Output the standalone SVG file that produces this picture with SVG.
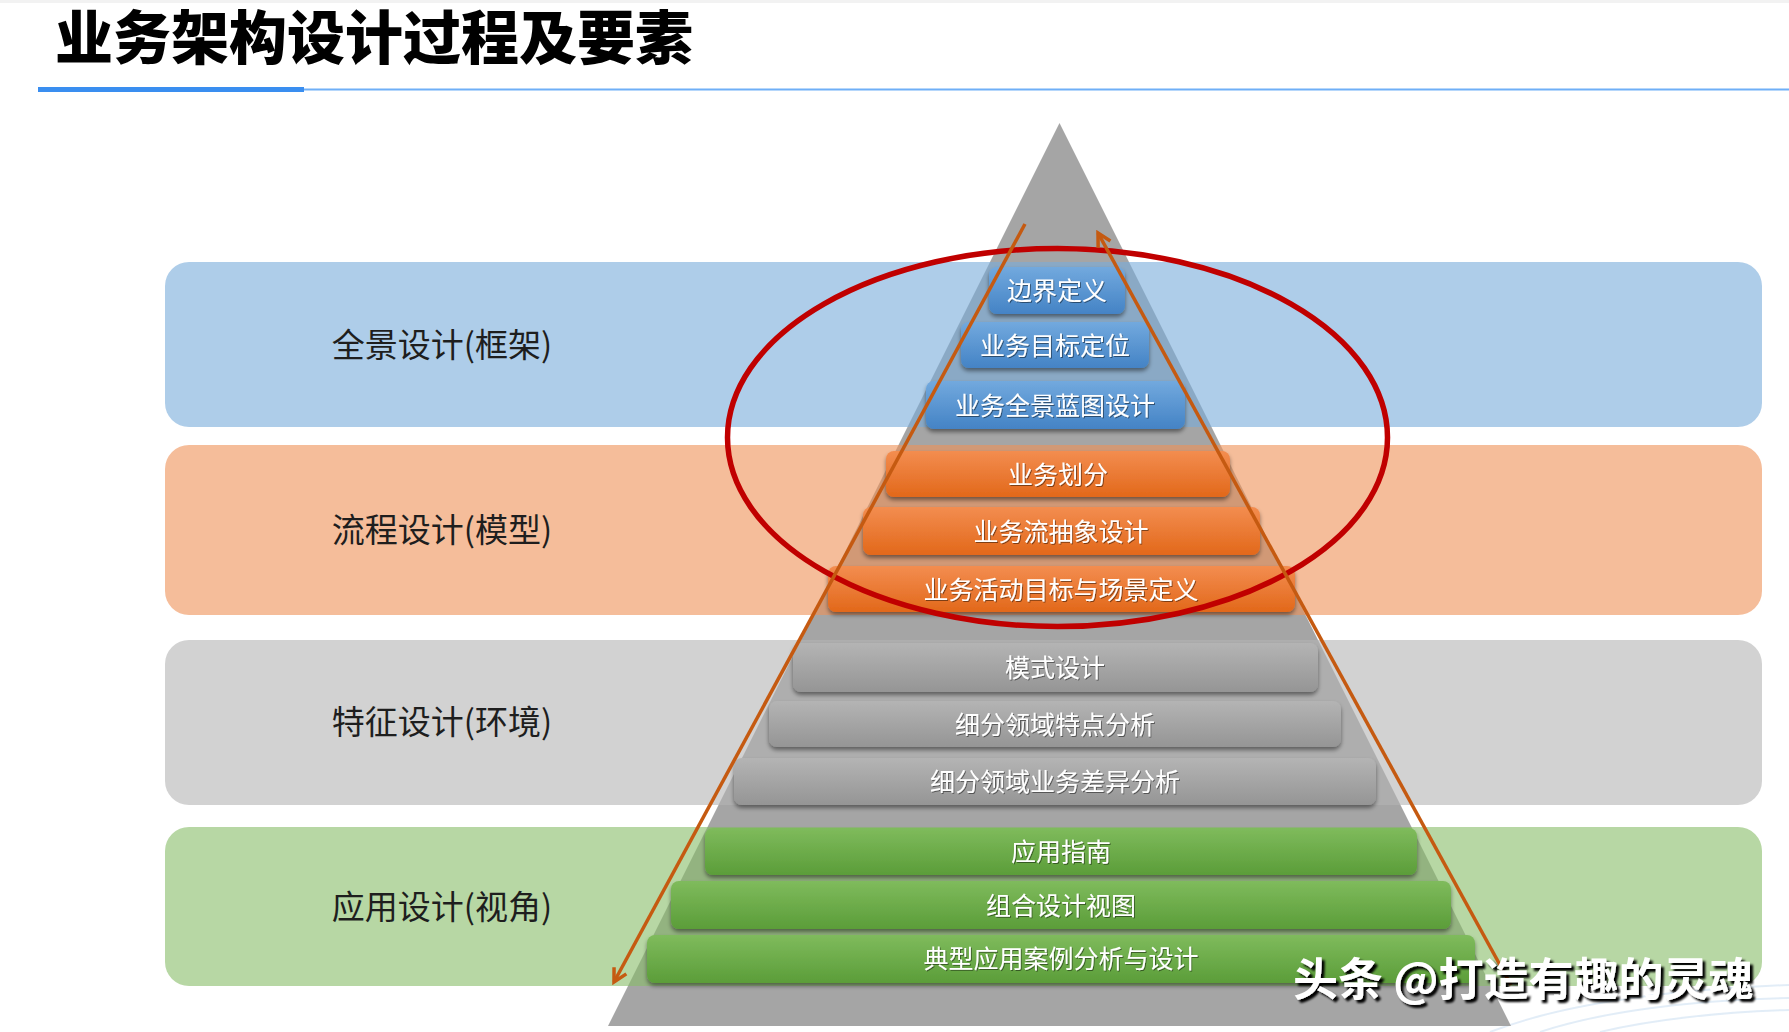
<svg xmlns="http://www.w3.org/2000/svg" width="1789" height="1032" viewBox="0 0 1789 1032">
<defs>
<style>
.cjk{font-family:"Noto Sans CJK SC","Noto Sans CJK JP",sans-serif;}
.title{font-size:58px;font-weight:900;fill:#000;}
.lbl{font-size:33px;fill:#1e1e1e;text-anchor:middle;}
.bx{font-size:25px;fill:#fff;text-anchor:middle;}
.band{fill-opacity:0.6;}
.arr{stroke:#c55a11;stroke-width:3.5;fill:none;marker-end:url(#ah);}
</style>
<linearGradient id="gB" x1="0" y1="0" x2="0" y2="1"><stop offset="0" stop-color="#72a9de"/><stop offset="1" stop-color="#4483c5"/></linearGradient>
<linearGradient id="gO" x1="0" y1="0" x2="0" y2="1"><stop offset="0" stop-color="#f38d50"/><stop offset="1" stop-color="#e2681a"/></linearGradient>
<linearGradient id="gG" x1="0" y1="0" x2="0" y2="1"><stop offset="0" stop-color="#b4b4b4"/><stop offset="1" stop-color="#959595"/></linearGradient>
<linearGradient id="gN" x1="0" y1="0" x2="0" y2="1"><stop offset="0" stop-color="#7fbb5c"/><stop offset="1" stop-color="#5b9d39"/></linearGradient>
<filter id="sh" x="-10%" y="-30%" width="120%" height="170%"><feDropShadow dx="0" dy="3" stdDeviation="2" flood-color="#000" flood-opacity="0.45"/></filter>
<filter id="tsh" x="-5%" y="-20%" width="110%" height="140%"><feDropShadow dx="1" dy="1" stdDeviation="0.7" flood-color="#000" flood-opacity="0.45"/></filter>
<filter id="wm" x="-5%" y="-20%" width="110%" height="150%"><feDropShadow dx="3" dy="3" stdDeviation="0.8" flood-color="#000" flood-opacity="1"/></filter>
<marker id="ah" viewBox="0 0 18 18" refX="15" refY="9" markerWidth="18" markerHeight="18" markerUnits="userSpaceOnUse" orient="auto"><path d="M2,2 L15,9 L2,16" fill="none" stroke="#c55a11" stroke-width="3.5" stroke-linejoin="miter"/></marker>
</defs>
<rect width="1789" height="1032" fill="#fff"/>
<rect width="1789" height="3" fill="#f2f2f2"/>
<g id="bg-waves" fill="none" stroke="#dce9f6" stroke-width="2" opacity="0.8">
<path d="M1490,1032 C1560,1005 1660,990 1789,985"/>
<path d="M1540,1032 C1600,1012 1690,1000 1789,998"/>
<path d="M1600,1032 C1650,1020 1720,1012 1789,1010"/>
</g>
<g id="title">
<text class="cjk title" x="55" y="59">业务架构设计过程及要素</text>
<rect x="304" y="88.5" width="1485" height="2" fill="#6fafF7"/>
<rect x="38" y="87" width="266" height="5" fill="#3a8ef0"/>
</g>
<polygon id="pyramid" points="1059.5,123 608,1026 1511,1026" fill="#a5a5a5"/>
<g id="bands">
<rect class="band" x="165" y="262" width="1597" height="165" rx="24" fill="#78acda"/>
<rect class="band" x="165" y="445" width="1597" height="170" rx="24" fill="#ee9157"/>
<rect class="band" x="165" y="640" width="1597" height="165" rx="24" fill="#b4b4b4"/>
<rect class="band" x="165" y="827" width="1597" height="159" rx="24" fill="#87bc67"/>
</g>
<g id="label-1"><text class="cjk lbl" x="442" y="357">全景设计(框架)</text></g>
<g id="label-2"><text class="cjk lbl" x="442" y="542">流程设计(模型)</text></g>
<g id="label-3"><text class="cjk lbl" x="442" y="734">特征设计(环境)</text></g>
<g id="label-4"><text class="cjk lbl" x="442" y="919">应用设计(视角)</text></g>
<g id="box-1"><rect x="989" y="267" width="136" height="47" rx="8" fill="url(#gB)" filter="url(#sh)"/><text class="cjk bx" filter="url(#tsh)" x="1057" y="299.5">边界定义</text></g>
<g id="box-2"><rect x="961" y="322" width="188" height="46" rx="8" fill="url(#gB)" filter="url(#sh)"/><text class="cjk bx" filter="url(#tsh)" x="1055" y="354.5">业务目标定位</text></g>
<g id="box-3"><rect x="926" y="381" width="259" height="48" rx="8" fill="url(#gB)" filter="url(#sh)"/><text class="cjk bx" filter="url(#tsh)" x="1055" y="414.5">业务全景蓝图设计</text></g>
<g id="box-4"><rect x="886" y="451" width="344" height="46" rx="8" fill="url(#gO)" filter="url(#sh)"/><text class="cjk bx" filter="url(#tsh)" x="1058" y="483.5">业务划分</text></g>
<g id="box-5"><rect x="863" y="507" width="397" height="48" rx="8" fill="url(#gO)" filter="url(#sh)"/><text class="cjk bx" filter="url(#tsh)" x="1061" y="540.5">业务流抽象设计</text></g>
<g id="box-6"><rect x="828" y="566" width="467" height="46" rx="8" fill="url(#gO)" filter="url(#sh)"/><text class="cjk bx" filter="url(#tsh)" x="1061" y="598.5">业务活动目标与场景定义</text></g>
<g id="box-7"><rect x="793" y="643" width="525" height="49" rx="8" fill="url(#gG)" filter="url(#sh)"/><text class="cjk bx" filter="url(#tsh)" x="1055" y="676.5">模式设计</text></g>
<g id="box-8"><rect x="769" y="701" width="572" height="46" rx="8" fill="url(#gG)" filter="url(#sh)"/><text class="cjk bx" filter="url(#tsh)" x="1055" y="733.5">细分领域特点分析</text></g>
<g id="box-9"><rect x="734" y="758" width="642" height="47" rx="8" fill="url(#gG)" filter="url(#sh)"/><text class="cjk bx" filter="url(#tsh)" x="1055" y="790.5">细分领域业务差异分析</text></g>
<g id="box-10"><rect x="705" y="828" width="712" height="47" rx="8" fill="url(#gN)" filter="url(#sh)"/><text class="cjk bx" filter="url(#tsh)" x="1061" y="860.5">应用指南</text></g>
<g id="box-11"><rect x="671" y="881" width="780" height="48" rx="8" fill="url(#gN)" filter="url(#sh)"/><text class="cjk bx" filter="url(#tsh)" x="1061" y="914.5">组合设计视图</text></g>
<g id="box-12"><rect x="647" y="935" width="828" height="48" rx="8" fill="url(#gN)" filter="url(#sh)"/><text class="cjk bx" filter="url(#tsh)" x="1061" y="967.5">典型应用案例分析与设计</text></g>
<g id="highlight"><ellipse cx="1057.5" cy="437.5" rx="330" ry="189" fill="none" stroke="#c00000" stroke-width="5.5"/></g>
<g id="connectors">
<line class="arr" x1="1025" y1="224" x2="614" y2="982"/>
<line class="arr" x1="1511" y1="985" x2="1098" y2="233"/>
</g>
<g id="watermark"><text class="cjk" x="1293" y="996" font-size="45" font-weight="700" fill="#fff" filter="url(#wm)">头条 @打造有趣的灵魂</text></g>
</svg>
